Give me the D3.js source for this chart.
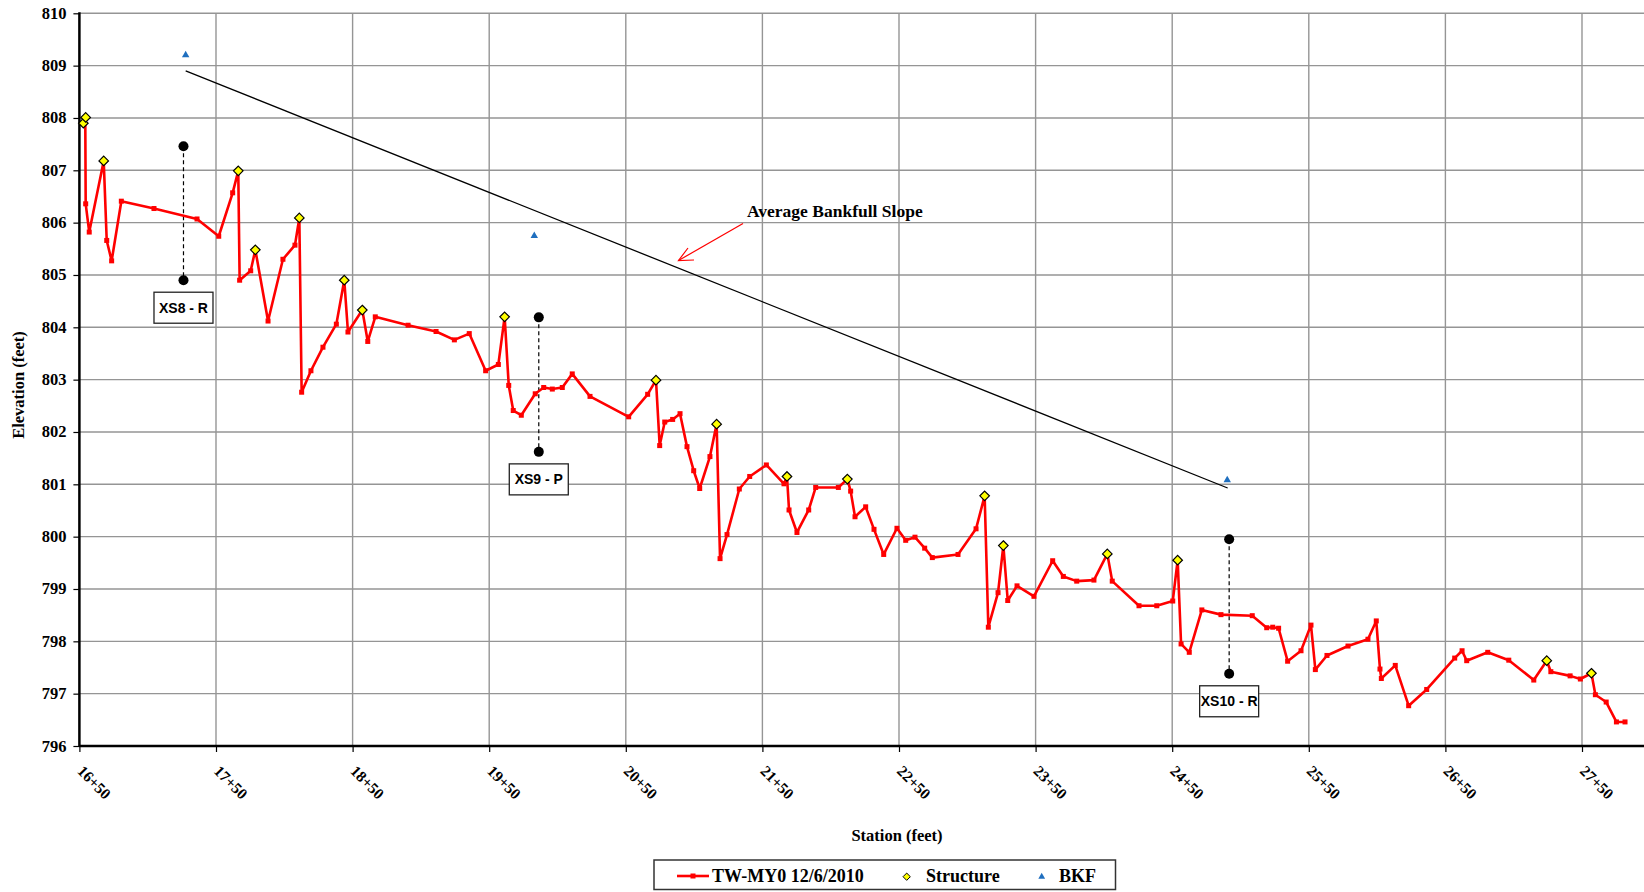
<!DOCTYPE html>
<html>
<head>
<meta charset="utf-8">
<title>Profile</title>
<style>
body { margin: 0; background: #fff; }
svg { display: block; }
.grid line { stroke: #959595; stroke-width: 1.4px; }
text.axis { font: bold 16.5px "Liberation Serif", "Times New Roman", serif; fill: #000; }
text.title { font: bold 16.5px "Liberation Serif", "Times New Roman", serif; fill: #000; }
text.leg { font: bold 18px "Liberation Serif", "Times New Roman", serif; fill: #000; }
text.xs { font: bold 14px "Liberation Sans", Arial, sans-serif; fill: #000; }
</style>
</head>
<body>
<script src="https://cdnjs.cloudflare.com/ajax/libs/d3/7.8.5/d3.min.js"></script>
<script>

// TW-MY0 12/6/2010 thalweg profile
var twStation = [1654.3,1654.6,1657.2,1667.8,1670.0,1673.6,1680.7,1704.6,1736.1,1752.0,1762.2,1766.3,1767.3,1775.4,1778.8,1788.1,1799.0,1807.8,1811.0,1812.7,
  1819.5,1828.3,1838.1,1843.9,1846.6,1857.1,1861.1,1866.6,1890.6,1911.1,1924.5,1935.4,1947.4,1956.7,1961.3,1964.3,1967.6,1973.5,1983.7,1989.9,
  1996.2,2003.5,2010.8,2023.8,2052.1,2066.0,2072.1,2074.8,2078.5,2084.3,2089.7,2094.8,2099.7,2104.1,2111.6,2116.5,2119.0,2124.1,2133.1,2140.7,
  2152.9,2165.8,2168.0,2169.5,2175.3,2183.9,2189.0,2205.6,2212.2,2214.6,2217.8,2225.6,2231.7,2238.8,2248.5,2254.9,2261.7,2268.8,2274.4,2293.2,
  2306.4,2312.7,2315.4,2322.5,2326.4,2329.6,2336.4,2348.8,2362.5,2370.3,2380.1,2392.7,2402.5,2406.1,2425.7,2438.7,2450.4,2454.0,2456.5,2462.5,
  2471.7,2485.7,2508.6,2519.2,2523.6,2527.9,2534.5,2544.3,2551.6,2554.8,2563.3,2578.7,2593.3,2599.4,2602.1,2603.1,2613.3,2623.1,2636.3,2656.8,
  2662.2,2665.6,2681.0,2696.4,2714.7,2724.2,2727.2,2741.3,2748.8,2756.9,2759.8,2767.7,2775.2,2781.5];
var twElev = [808.00,806.36,805.82,807.18,805.66,805.27,806.41,806.27,806.07,805.74,806.57,806.99,804.90,805.08,805.48,804.12,805.30,805.57,806.09,802.76,
  803.17,803.62,804.06,804.90,803.91,804.33,803.73,804.20,804.04,803.92,803.76,803.88,803.17,803.29,804.20,802.89,802.41,802.32,802.73,802.85,
  802.82,802.85,803.11,802.68,802.29,802.72,802.99,801.74,802.19,802.24,802.35,801.72,801.26,800.92,801.53,802.15,799.58,800.04,800.91,801.15,
  801.37,801.01,801.15,800.51,800.08,800.51,800.94,800.94,801.10,800.87,800.38,800.57,800.14,799.66,800.16,799.93,799.99,799.78,799.60,799.66,
  800.15,800.78,798.27,798.93,799.83,798.78,799.06,798.86,799.54,799.24,799.15,799.17,799.67,799.15,798.68,798.68,798.77,799.55,797.95,797.79,
  798.60,798.51,798.49,798.26,798.27,798.25,797.62,797.82,798.31,797.46,797.73,797.91,798.04,798.39,797.47,797.29,797.54,796.77,797.08,797.68,
  797.82,797.63,797.79,797.64,797.26,797.63,797.42,797.34,797.28,797.39,796.98,796.84,796.46,796.46];

// Structure points
var structStation = [1652.9,1654.6,1667.8,1766.3,1778.8,1811.0,1843.9,1857.1,1961.3,2072.1,2116.5,2168.0,2212.2,2312.7,2326.4,2402.5,2454.0,2724.2,2756.9];
var structElev = [807.90,808.01,807.18,806.99,805.48,806.09,804.90,804.33,804.20,802.99,802.15,801.15,801.10,800.78,799.83,799.67,799.55,797.63,797.39];

// BKF points
var bkfStation = [1727.8,1983.0,2490.3];
var bkfElev = [809.20,805.75,801.08];

// average bankfull slope line
var slopeStation = [1727.8,2490.6];
var slopeElev = [808.90,800.93];

// cross sections
var xsNames = ["XS8 - R","XS9 - P","XS10 - R"];
var xsStation = [1726.2,1986.3,2491.7];
var xsTop = [807.46,804.19,799.95];
var xsBottom = [804.90,801.62,797.38];

var xTicks = [1650,1750,1850,1950,2050,2150,2250,2350,2450,2550,2650,2750];
var yTicks = [796,797,798,799,800,801,802,803,804,805,806,807,808,809,810];

var width = 1644, height = 892;
var plotLeft = 79.4, plotTop = 13.3, plotBottom = 746;

var x = d3.scaleLinear().domain([1650, 2800]).range([plotLeft, plotLeft + 11.5 * 136.6]);
var y = d3.scaleLinear().domain([796, 810]).range([plotBottom, plotTop]);

var svg = d3.select("body").append("svg")
    .attr("width", width)
    .attr("height", height);

// grid
var grid = svg.append("g").attr("class", "grid");
grid.selectAll("line.h").data(yTicks.slice(1)).enter().append("line")
    .attr("x1", plotLeft).attr("x2", width)
    .attr("y1", function(d) { return y(d); }).attr("y2", function(d) { return y(d); });
grid.selectAll("line.v").data(xTicks.slice(1)).enter().append("line")
    .attr("y1", plotTop).attr("y2", plotBottom)
    .attr("x1", function(d) { return x(d); }).attr("x2", function(d) { return x(d); });

// axes
var xAxis = d3.axisBottom(x).tickValues(xTicks).tickSize(6).tickFormat("");
var yAxis = d3.axisLeft(y).tickValues(yTicks).tickSize(6).tickFormat("");

var gx = svg.append("g").attr("transform", "translate(0," + plotBottom + ")").call(xAxis);
gx.select(".domain").attr("stroke", "#000").attr("stroke-width", 2.5).attr("d", "M" + plotLeft + ",0H" + width);
gx.selectAll(".tick line").attr("stroke", "#000").attr("stroke-width", 1.2);

var gy = svg.append("g").attr("transform", "translate(" + plotLeft + ",0)").call(yAxis);
gy.select(".domain").attr("stroke", "#000").attr("stroke-width", 2.5).attr("d", "M0," + (plotTop - 1) + "V" + (plotBottom + 1));
gy.selectAll(".tick line").attr("stroke", "#000").attr("stroke-width", 1.2);

svg.append("g").selectAll("text").data(yTicks).enter().append("text")
    .attr("class", "axis")
    .attr("x", plotLeft - 13)
    .attr("y", function(d) { return y(d) + 5.5; })
    .attr("text-anchor", "end")
    .text(function(d) { return d; });

svg.append("g").selectAll("text").data(xTicks).enter().append("text")
    .attr("class", "axis")
    .style("font-size", "15.5px")
    .attr("transform", function(d) { return "translate(" + (x(d) - 3) + "," + (plotBottom + 26) + ") rotate(45)"; })
    .text(function(d) { return Math.floor(d / 100) + "+" + (d % 100); });

svg.append("text").attr("class", "title")
    .attr("x", 897).attr("y", 841)
    .attr("text-anchor", "middle")
    .text("Station (feet)");

svg.append("text").attr("class", "title")
    .attr("transform", "translate(24,385) rotate(-90)")
    .attr("text-anchor", "middle")
    .text("Elevation (feet)");

// slope line
svg.append("line")
    .attr("x1", x(slopeStation[0])).attr("y1", y(slopeElev[0]))
    .attr("x2", x(slopeStation[1])).attr("y2", y(slopeElev[1]))
    .attr("stroke", "#000").attr("stroke-width", 1.3);

// cross section markers
xsNames.forEach(function(name, i) {
  var cx = x(xsStation[i]);
  svg.append("line")
      .attr("x1", cx).attr("x2", cx)
      .attr("y1", y(xsTop[i])).attr("y2", y(xsBottom[i]))
      .attr("stroke", "#000").attr("stroke-width", 1.2)
      .attr("stroke-dasharray", "4,3");
  svg.append("circle").attr("cx", cx).attr("cy", y(xsTop[i])).attr("r", 5).attr("fill", "#000");
  svg.append("circle").attr("cx", cx).attr("cy", y(xsBottom[i])).attr("r", 5).attr("fill", "#000");
  var bw = 59, bh = 31;
  var by = y(xsBottom[i]) + 12;
  svg.append("rect")
      .attr("x", cx - bw / 2).attr("y", by)
      .attr("width", bw).attr("height", bh)
      .attr("fill", "#fff").attr("stroke", "#222").attr("stroke-width", 1.3);
  svg.append("text").attr("class", "xs")
      .attr("x", cx).attr("y", by + bh / 2 + 5)
      .attr("text-anchor", "middle")
      .text(name);
});

// thalweg line
var tw = twStation.map(function(s, i) { return [s, twElev[i]]; });
var line = d3.line()
    .x(function(d) { return x(d[0]); })
    .y(function(d) { return y(d[1]); });

svg.append("path")
    .datum(tw)
    .attr("d", line)
    .attr("fill", "none")
    .attr("stroke", "#ff0000")
    .attr("stroke-width", 2.6)
    .attr("stroke-linejoin", "round");

svg.append("g").selectAll("rect").data(tw).enter().append("rect")
    .attr("x", function(d) { return x(d[0]) - 2.5; })
    .attr("y", function(d) { return y(d[1]) - 2.5; })
    .attr("width", 5).attr("height", 5)
    .attr("fill", "#ff0000");

// structures
var diamond = d3.symbol().type(d3.symbolDiamond2).size(58);
svg.append("g").selectAll("path").data(structStation).enter().append("path")
    .attr("d", diamond)
    .attr("transform", function(d, i) { return "translate(" + x(d) + "," + y(structElev[i]) + ")"; })
    .attr("fill", "#ffff00").attr("stroke", "#000").attr("stroke-width", 1.2);

// BKF
var tri = d3.symbol().type(d3.symbolTriangle).size(24);
svg.append("g").selectAll("path").data(bkfStation).enter().append("path")
    .attr("d", tri)
    .attr("transform", function(d, i) { return "translate(" + x(d) + "," + y(bkfElev[i]) + ")"; })
    .attr("fill", "#1f6fbf");

// annotation
svg.append("text").attr("class", "leg")
    .style("font-size", "17.5px")
    .attr("x", 747).attr("y", 217)
    .text("Average Bankfull Slope");
svg.append("line").attr("x1", 743).attr("y1", 223.5).attr("x2", 678.5).attr("y2", 260.5)
    .attr("stroke", "#ff0000").attr("stroke-width", 1.2);
svg.append("path").attr("d", "M688,248 L678.5,260.5 L694,260")
    .attr("fill", "none").attr("stroke", "#ff0000").attr("stroke-width", 1.2);

// legend
var leg = svg.append("g");
leg.append("rect").attr("x", 654).attr("y", 860).attr("width", 461.5).attr("height", 29.5)
    .attr("fill", "#fff").attr("stroke", "#333").attr("stroke-width", 1.5);
leg.append("line").attr("x1", 677).attr("x2", 709).attr("y1", 876).attr("y2", 876)
    .attr("stroke", "#ff0000").attr("stroke-width", 2.6);
leg.append("rect").attr("x", 690.5).attr("y", 873.5).attr("width", 5).attr("height", 5).attr("fill", "#ff0000");
leg.append("text").attr("class", "leg").attr("x", 712).attr("y", 882).text("TW-MY0 12/6/2010");
leg.append("path").attr("d", d3.symbol().type(d3.symbolDiamond2).size(34))
    .attr("transform", "translate(906.7,876.7)")
    .attr("fill", "#ffff00").attr("stroke", "#000").attr("stroke-width", 1);
leg.append("text").attr("class", "leg").attr("x", 926).attr("y", 882).text("Structure");
leg.append("path").attr("d", d3.symbol().type(d3.symbolTriangle).size(20))
    .attr("transform", "translate(1041.7,876.7)")
    .attr("fill", "#1f6fbf");
leg.append("text").attr("class", "leg").attr("x", 1059).attr("y", 882).text("BKF");

</script>
</body>
</html>
